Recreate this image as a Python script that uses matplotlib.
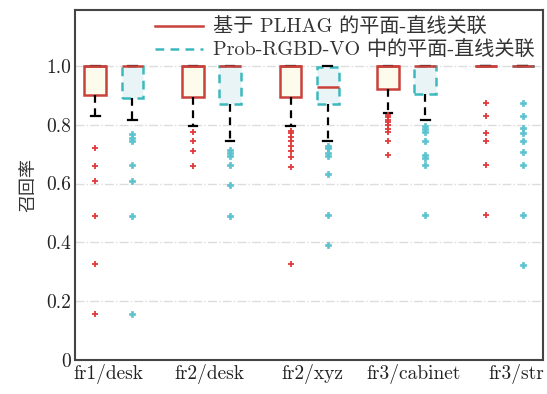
import matplotlib
matplotlib.use("Agg")
import matplotlib.pyplot as plt
from matplotlib.lines import Line2D

plt.rcParams['font.family'] = ['cmr10', 'Noto Sans CJK SC', 'DejaVu Sans']
plt.rcParams['axes.formatter.use_mathtext'] = True
plt.rcParams['axes.unicode_minus'] = False

# data
categories = ['fr1/desk', 'fr2/desk', 'fr2/xyz', 'fr3/cabinet', 'fr3/str']

# PLHAG (red)
red_q1 = [0.90, 0.895, 0.895, 0.92, 1.0]
red_med = [1.0, 1.0, 1.0, 1.0, 1.0]
red_q3 = [1.0, 1.0, 1.0, 1.0, 1.0]
red_lo = [0.83, 0.795, 0.795, 0.84, 1.0]
red_hi = [1.0, 1.0, 1.0, 1.0, 1.0]
red_fliers = [
    [0.72, 0.66, 0.61, 0.49, 0.325, 0.155],
    [0.775, 0.745, 0.71, 0.66],
    [0.78, 0.77, 0.757, 0.743, 0.728, 0.711, 0.69, 0.655, 0.325],
    [0.833, 0.825, 0.817, 0.808, 0.799, 0.785, 0.774, 0.745, 0.696],
    [0.873, 0.83, 0.773, 0.745, 0.662, 0.492],
]

# Prob-RGBD-VO (cyan)
cyan_q1 = [0.89, 0.87, 0.87, 0.905, 1.0]
cyan_med = [1.0, 1.0, 0.927, 1.0, 1.0]
cyan_q3 = [1.0, 1.0, 0.995, 1.0, 1.0]
cyan_lo = [0.815, 0.745, 0.745, 0.815, 1.0]
cyan_hi = [1.0, 1.0, 1.0, 1.0, 1.0]
cyan_fliers = [
    [0.768, 0.753, 0.743, 0.662, 0.609, 0.491, 0.155],
    [0.714, 0.703, 0.692, 0.662, 0.595, 0.491],
    [0.728, 0.72, 0.703, 0.692, 0.631, 0.492, 0.39],
    [0.796, 0.785, 0.774, 0.745, 0.696, 0.688, 0.662, 0.492],
    [0.873, 0.83, 0.79, 0.773, 0.745, 0.707, 0.662, 0.492, 0.322],
]

ytick_vals = [0, 0.2, 0.4, 0.6, 0.8, 1.0]
ytick_labels = ['0', '0.2', '0.4', '0.6', '0.8', '1.0']
legend_labels = ['基于 PLHAG 的平面-直线关联', 'Prob-RGBD-VO 中的平面-直线关联']

red = '#c8413b'
cyan = '#3cb9bd'


def make_stats(q1, med, q3, lo, hi, fl):
    return [dict(q1=a, med=b, q3=c, whislo=d, whishi=e, fliers=f)
            for a, b, c, d, e, f in zip(q1, med, q3, lo, hi, fl)]


fig = plt.figure(figsize=(5.47, 3.94), dpi=100)
ax = fig.add_axes([0.137, 0.086, 0.856, 0.889])

n = len(categories)
off = 0.19
w = 0.225

common = dict(
    widths=w, patch_artist=True, manage_ticks=False,
    whiskerprops=dict(color='black', linestyle=(0, (3.5, 2.5)), linewidth=1.6),
    capprops=dict(color='black', linewidth=1.6),
    medianprops=dict(color=red, linewidth=1.8),
    capwidths=0.09,
)

ax.bxp(make_stats(red_q1, red_med, red_q3, red_lo, red_hi, red_fliers),
       positions=[i - off for i in range(n)],
       boxprops=dict(facecolor='#fdfbec', edgecolor=red, linewidth=1.8),
       flierprops=dict(marker='+', markeredgecolor='#e03a3a', markersize=5,
                       markeredgewidth=1.3),
       **common)

ax.bxp(make_stats(cyan_q1, cyan_med, cyan_q3, cyan_lo, cyan_hi, cyan_fliers),
       positions=[i + off for i in range(n)],
       boxprops=dict(facecolor='#e9f4f7', edgecolor=cyan, linewidth=1.8,
                     linestyle=(0, (3.5, 2.5))),
       flierprops=dict(marker='P', markerfacecolor='#5bc3ce',
                       markeredgecolor='#5bc3ce', markersize=4.5,
                       markeredgewidth=0.5),
       **common)

ax.set_xlim(-0.4, 4.4)
ax.set_ylim(0, 1.19)
ax.set_xticks([-0.06, 0.98, 2.03, 3.07, 4.12])
ax.set_xticklabels(categories, fontsize=14)
ax.set_yticks(ytick_vals)
ax.set_yticklabels(ytick_labels, fontsize=14)
ax.tick_params(length=0, pad=3, colors='#222222')
ax.set_ylabel('召回率', fontsize=13, labelpad=7, color='#333333')

ax.yaxis.grid(True, linestyle='-.', color='#dddddd', linewidth=1)
ax.set_axisbelow(True)
for s in ax.spines.values():
    s.set_color('#444444')
    s.set_linewidth(1.5)

handles = [Line2D([], [], color=red, linewidth=1.8),
           Line2D([], [], color=cyan, linewidth=1.8, linestyle=(0, (3.5, 2.5)))]
ax.legend(handles, legend_labels, loc='upper right', frameon=False,
          fontsize=14.5, handlelength=2.4, borderaxespad=0.0,
          labelspacing=0.2, handletextpad=0.5, labelcolor='#333333')

fig.savefig('out.png', dpi=100)
